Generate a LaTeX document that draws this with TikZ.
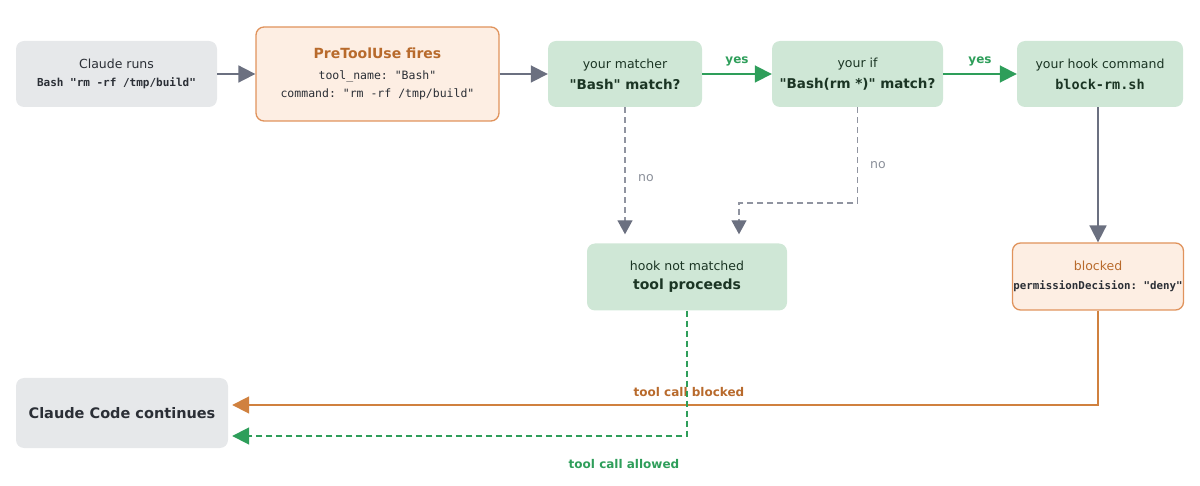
\documentclass[tikz,border=0pt]{standalone}
\usepackage{fontspec}
\setmainfont{DejaVu Sans}[Ligatures=TeXOff]
\setmonofont{DejaVu Sans Mono}[Ligatures=TeXOff]
\usetikzlibrary{arrows.meta}
\definecolor{grayfill}{HTML}{E6E8EA}
\definecolor{orfill}{HTML}{FDEEE3}
\definecolor{ordraw}{HTML}{E0935C}
\definecolor{ortext}{HTML}{B86A2C}
\definecolor{grfill}{HTML}{CFE7D6}
\definecolor{grtext}{HTML}{1B3524}
\definecolor{darktext}{HTML}{2B2F36}
\definecolor{grayarrow}{HTML}{6B7080}
\definecolor{grarrow}{HTML}{2E9E5A}
\definecolor{orarrow}{HTML}{D0813F}
\definecolor{notext}{HTML}{8A8F99}
\begin{document}
\begin{tikzpicture}[x=1pt,y=-1pt,
  box/.style={rounded corners=8pt,align=center,inner sep=0pt,text=darktext},
  graybox/.style={box,fill=grayfill},
  orbox/.style={box,fill=orfill,draw=ordraw,line width=1.3pt},
  grbox/.style={box,fill=grfill,text=grtext},
  tip/.style={-{Triangle[length=17pt,width=17pt]}},
  grayarr/.style={tip,draw=grayarrow,line width=1.8pt},
  grarr/.style={tip,draw=grarrow,line width=1.8pt},
  orarr/.style={tip,draw=orarrow,line width=1.8pt},
  dashgray/.style={-{Triangle[length=14pt,width=15pt,fill=grayarrow,color=grayarrow]},draw=grayarrow!75,line width=1.3pt,dash pattern=on 6pt off 4pt},
  dashgreen/.style={tip,draw=grarrow,line width=1.8pt,dash pattern=on 6pt off 4pt},
  lbl/.style={font=\fontsize{12}{14}\selectfont\bfseries,inner sep=0pt},
  nolbl/.style={font=\fontsize{12.5}{15}\selectfont,text=notext,inner sep=0pt}
]
\useasboundingbox (0,0) rectangle (1200,486);
\node[graybox,minimum width=201pt,minimum height=66pt] (cr) at (116.5,74)
  {\fontsize{12.5}{15}\selectfont Claude runs\\[6pt]\fontsize{11}{13}\selectfont\ttfamily\bfseries Bash "rm -rf /tmp/build"};
\node[orbox,minimum width=243pt,minimum height=94pt] (pt) at (377.5,74)
  {\fontsize{14}{16}\selectfont\bfseries\color{ortext}PreToolUse fires\\[9pt]
   \fontsize{11.5}{14}\selectfont\ttfamily tool\_name: "Bash"\\[6pt]
   \fontsize{11.5}{14}\selectfont\ttfamily command: "rm -rf /tmp/build"};
\node[grbox,minimum width=154pt,minimum height=66pt] (m) at (625,74)
  {\fontsize{12.5}{15}\selectfont your matcher\\[7pt]\fontsize{13.5}{16}\selectfont\bfseries "Bash" match?};
\node[grbox,minimum width=171pt,minimum height=66pt] (ifn) at (857.5,74)
  {\fontsize{12.5}{15}\selectfont your if\\[7pt]\fontsize{13.5}{16}\selectfont\bfseries "Bash(rm *)" match?};
\node[grbox,minimum width=166pt,minimum height=66pt] (hc) at (1100,74)
  {\fontsize{12.5}{15}\selectfont your hook command\\[7pt]\fontsize{13.5}{16}\selectfont\ttfamily\bfseries block-rm.sh};
\node[grbox,minimum width=200pt,minimum height=67pt] (nm) at (687,277)
  {\fontsize{12.5}{15}\selectfont hook not matched\\[7pt]\fontsize{14}{17}\selectfont\bfseries tool proceeds};
\node[orbox,minimum width=171pt,minimum height=67pt] (bl) at (1098,276.5)
  {\fontsize{12.5}{15}\selectfont\color{ortext}blocked\\[7pt]\fontsize{10.8}{13}\selectfont\ttfamily\bfseries permissionDecision: "deny"};
\node[graybox,minimum width=212pt,minimum height=70pt] (cc) at (122,413)
  {\fontsize{14.5}{17}\selectfont\bfseries Claude Code continues};

\draw[grayarr] (cr.east) -- (pt.west);
\draw[grayarr] (pt.east) -- (m.west);
\draw[grarr] (m.east) -- node[lbl,text=grarrow,above=7pt] (y1) {yes} (ifn.west);
\draw[grarr] (ifn.east) -- node[lbl,text=grarrow,above=7pt] (y2) {yes} (hc.west);
\draw[grayarr] (hc.south -| bl.north) -- (bl.north);

\coordinate (c2) at (739,203);
\draw[dashgray,shorten >=9pt] (m.south) -- (m.south |- nm.north);
\node[nolbl] (no1) at (646,178) {no};
\draw[dashgray,shorten >=9pt] (ifn.south) |- (c2) -- (c2 |- nm.north);
\node[nolbl] (no2) at (878,165) {no};

\draw[orarr,shorten >=4pt] (bl.south) |- ([yshift=8pt]cc.east);
\node[lbl,text=ortext] (tb) at (689,392) {tool call blocked};
\draw[dashgreen,shorten >=4pt] (nm.south) |- ([yshift=-23pt]cc.east);
\node[lbl,text=grarrow] (ta) at (624,464) {tool call allowed};
\end{tikzpicture}
\end{document}
